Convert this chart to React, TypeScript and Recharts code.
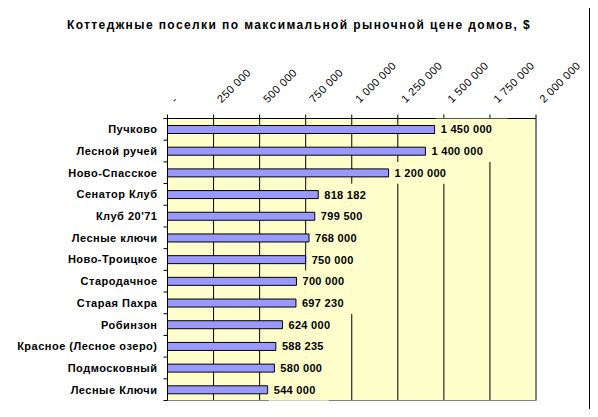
import { BarChart, Bar, XAxis, YAxis, CartesianGrid, LabelList, ReferenceArea } from 'recharts'

const VILLAGES = [
  'Пучково',
  'Лесной ручей',
  'Ново-Спасское',
  'Сенатор Клуб',
  "Клуб 20'71",
  'Лесные ключи',
  'Ново-Троицкое',
  'Стародачное',
  'Старая Пахра',
  'Робинзон',
  'Красное (Лесное озеро)',
  'Подмосковный',
  'Лесные Ключи',
]
const MAX_PRICES = [
  1450000, 1400000, 1200000, 818182, 799500, 768000, 750000,
  700000, 697230, 624000, 588235, 580000, 544000,
]
const PRICE_TICKS = [0, 250000, 500000, 750000, 1000000, 1250000, 1500000, 1750000, 2000000]

const TITLE = 'Коттеджные поселки по максимальной рыночной цене домов, $'

const data = VILLAGES.map((name, i) => ({ name, price: MAX_PRICES[i] }))

const FONT = '"Liberation Sans", Arial, sans-serif'
const PLOT_BG = '#FFFFCC'
const BAR_FILL = '#9999FF'

// plot area is 282px tall, split into one band per village
const BAND = 282 / VILLAGES.length

const fmt = (v: number) => (v === 0 ? '-' : String(v).replace(/\B(?=(\d{3})+(?!\d))/g, ' '))

function PriceTick({ x, y, payload }: any) {
  return (
    <text
      x={0}
      y={0}
      transform={`translate(${x + 8},${y - 9}) rotate(-45)`}
      fontFamily={FONT}
      fontSize={11}
      letterSpacing={0.4}
      fill="#000"
      textAnchor="start"
    >
      {fmt(payload.value)}
    </text>
  )
}

function VillageTick({ x, y, payload, index }: any) {
  const ax = x + 10
  return (
    <g>
      <line x1={ax - 4} x2={ax} y1={y - BAND / 2} y2={y - BAND / 2} stroke="#000" />
      {index === VILLAGES.length - 1 && (
        <line x1={ax - 4} x2={ax} y1={y + BAND / 2} y2={y + BAND / 2} stroke="#000" />
      )}
      <text
        x={x}
        y={y}
        dy="0.36em"
        textAnchor="end"
        fontFamily={FONT}
        fontSize={11}
        fontWeight="bold"
        letterSpacing={0.5}
        fill="#000"
      >
        {payload.value}
      </text>
    </g>
  )
}

function PriceLabel({ x, y, width, height, value }: any) {
  const text = fmt(value)
  const tx = x + width + 6
  const cy = y + height / 2
  return (
    <g>
      <rect x={tx - 5} y={cy - BAND / 2} width={text.length * 6 + 18} height={BAND} fill={PLOT_BG} />
      <text
        x={tx}
        y={cy}
        dy="0.36em"
        fontFamily={FONT}
        fontSize={11}
        fontWeight="bold"
        letterSpacing={0.3}
        fill="#000"
      >
        {text}
      </text>
    </g>
  )
}

export default function App() {
  return (
    <div style={{ position: 'relative', width: 598, height: 417, margin: -8, background: '#fff' }}>
      <div
        style={{
          position: 'absolute',
          left: 0,
          top: 18,
          width: 598,
          textAlign: 'center',
          fontFamily: FONT,
          fontSize: 12,
          fontWeight: 'bold',
          letterSpacing: 1.4,
        }}
      >
        {TITLE}
      </div>
      <div style={{ position: 'absolute', left: 0, top: 0 }}>
        <BarChart
          width={598}
          height={417}
          data={data}
          layout="vertical"
          margin={{ top: 0, right: 62, bottom: 16.5, left: 0.5 }}
        >
          <CartesianGrid horizontal={false} stroke="#000" fill={PLOT_BG} fillOpacity={1} />
          <ReferenceArea x1={0} x2={2000000} fill="none" stroke="#808080" strokeWidth={1} ifOverflow="visible" />
          <XAxis
            type="number"
            orientation="top"
            domain={[0, 2000000]}
            ticks={PRICE_TICKS}
            interval={0}
            height={118.5}
            stroke="#000"
            tickSize={4}
            tick={<PriceTick />}
          />
          <YAxis
            type="category"
            dataKey="name"
            width={167}
            stroke="#000"
            tickLine={false}
            tickSize={4}
            tickMargin={6}
            interval={0}
            tick={<VillageTick />}
          />
          <Bar dataKey="price" fill={BAR_FILL} stroke="#000" strokeWidth={1} barSize={8} isAnimationActive={false}>
            <LabelList dataKey="price" content={<PriceLabel />} />
          </Bar>
        </BarChart>
      </div>
      <svg width={598} height={417} style={{ position: 'absolute', left: 0, top: 0, pointerEvents: 'none' }}>
        <rect x={6} y={5} width={584} height={405} fill="none" stroke="#000" strokeWidth={2} />
      </svg>
    </div>
  )
}
